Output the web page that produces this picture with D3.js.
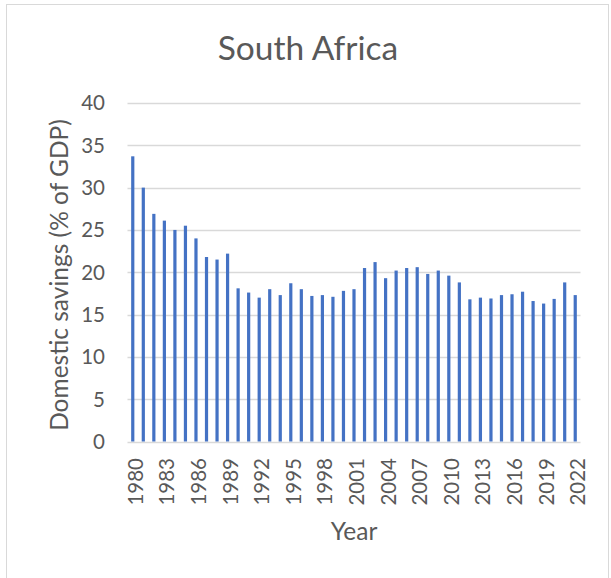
<!DOCTYPE html>
<html>
<head>
<meta charset="utf-8">
<script src="https://cdn.jsdelivr.net/npm/d3@7"></script>
<style>
  html, body { margin: 0; padding: 0; background: #fff; }
  svg { display: block; }
  text { font-family: Lato, "Noto Sans", sans-serif; fill: #595959; }
</style>
</head>
<body>
<svg id="chart" width="611" height="578"></svg>
<script>
// Gross domestic savings, South Africa (% of GDP), 1980–2022
const years = d3.range(1980, 2023);
const savings = [
  33.7, 30.0, 26.9, 26.1, 25.0, 25.5, 24.0, 21.8, 21.5, 22.2,
  18.1, 17.6, 17.0, 18.0, 17.3, 18.7, 18.0, 17.2, 17.3, 17.1,
  17.8, 18.0, 20.5, 21.2, 19.3, 20.2, 20.5, 20.6, 19.8, 20.2,
  19.6, 18.8, 16.8, 17.0, 16.9, 17.3, 17.4, 17.7, 16.6, 16.3,
  16.85, 18.8, 17.3
];
const yTicks = [0, 5, 10, 15, 20, 25, 30, 35, 40];
const labelYears = years.filter((y, i) => i % 3 === 0);

const title = "South Africa";
const xTitle = "Year";
const yTitle = "Domestic savings (% of GDP)";

const svg = d3.select("#chart");

// chart frame
svg.append("rect")
  .attr("x", 6.5).attr("y", 4.5)
  .attr("width", 602).attr("height", 580)
  .attr("fill", "#fff")
  .attr("stroke", "#d9d9d9")
  .attr("stroke-width", 1);

const plot = { left: 127.5, right: 580.5, top: 103, bottom: 441.5 };

const x = d3.scaleBand()
  .domain(years)
  .range([plot.left, plot.right])
  .padding(0);

const y = d3.scaleLinear()
  .domain([0, 40])
  .range([plot.bottom, plot.top]);

const barWidth = 3.2;

// horizontal gridlines
svg.append("g")
  .selectAll("line")
  .data(yTicks)
  .join("line")
  .attr("x1", plot.left)
  .attr("x2", plot.right)
  .attr("y1", d => Math.round(y(d)) + 0.5)
  .attr("y2", d => Math.round(y(d)) + 0.5)
  .attr("stroke", "#d9d9d9")
  .attr("stroke-width", 1.3);

// y tick labels
svg.append("g")
  .selectAll("text")
  .data(yTicks)
  .join("text")
  .attr("x", 105)
  .attr("y", d => y(d))
  .attr("dy", "0.36em")
  .attr("text-anchor", "end")
  .attr("font-size", 20.5)
  .text(d => d);

// bars
svg.append("g")
  .selectAll("rect")
  .data(years.map((yr, i) => ({ yr, v: savings[i] })))
  .join("rect")
  .attr("x", d => x(d.yr) + x.bandwidth() / 2 - barWidth / 2)
  .attr("y", d => y(d.v))
  .attr("width", barWidth)
  .attr("height", d => y(0) - y(d.v))
  .attr("fill", "#4472c4");

// x tick labels, rotated
svg.append("g")
  .selectAll("text")
  .data(labelYears)
  .join("text")
  .attr("transform", d => `translate(${x(d) + x.bandwidth() / 2 + 10},458) rotate(-90)`)
  .attr("text-anchor", "end")
  .attr("font-size", 20.5)
  .text(d => d);

// titles
svg.append("text")
  .attr("x", 308)
  .attr("y", 59.5)
  .attr("text-anchor", "middle")
  .attr("font-size", 33.5)
  .text(title);

svg.append("text")
  .attr("x", (plot.left + plot.right) / 2)
  .attr("y", 540)
  .attr("text-anchor", "middle")
  .attr("font-size", 24.5)
  .text(xTitle);

svg.append("text")
  .attr("transform", `translate(68,275) rotate(-90)`)
  .attr("text-anchor", "middle")
  .attr("font-size", 24.5)
  .text(yTitle);
</script>
</body>
</html>
